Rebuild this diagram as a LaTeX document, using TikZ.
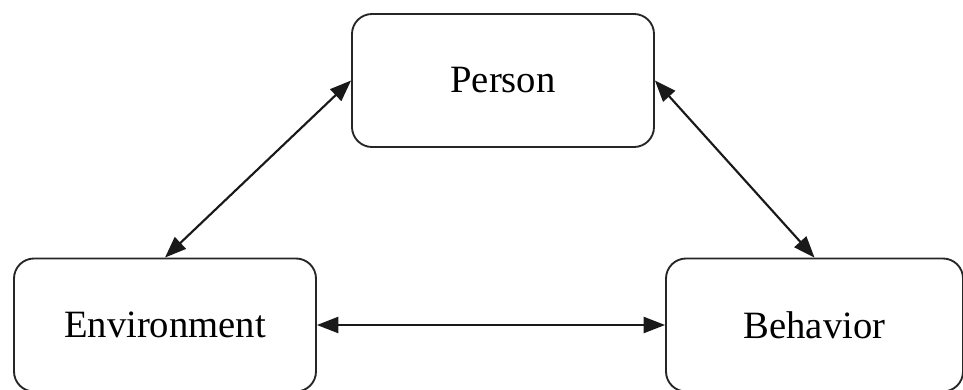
\documentclass[tikz,border=0pt]{standalone}
\usepackage{fontspec}
\setmainfont{Liberation Serif}
\usetikzlibrary{arrows.meta}
\begin{document}
\begin{tikzpicture}[x=0.75pt,y=-0.75pt,
  factor/.style={draw=black!85, line width=1.4pt, rounded corners=15pt,
    minimum width=226.5pt, minimum height=99.75pt, inner sep=0pt,
    font=\fontsize{29}{34}\selectfont},
  link/.style={draw=black!90, line width=1.6pt,
    {Triangle[length=16pt,width=12pt]}-{Triangle[length=16pt,width=12pt]}}]
\useasboundingbox (0,0) rectangle (963,389);
% the three interacting factors
\node[factor] (person) at (503,80.5) {Person};
\node[factor] (env) at (165,325) {Environment};
\node[factor, minimum width=222.75pt] (beh) at (814.5,325) {Behavior};
% reciprocal influences
\draw[link] (env.north) -- (person.west);
\draw[link] (person.east) -- (beh.north);
\draw[link] (env.east) -- (beh.west);
\end{tikzpicture}
\end{document}
